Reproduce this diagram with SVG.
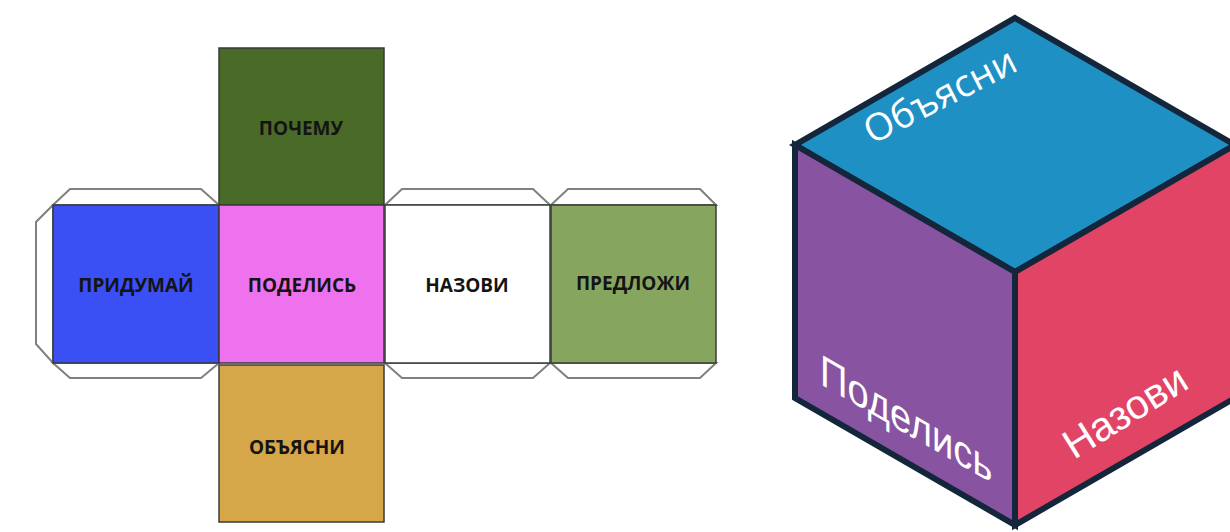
<svg xmlns="http://www.w3.org/2000/svg" width="1230" height="532" viewBox="0 0 1230 532">
<defs>
<style>
.face{stroke:#3a3a3a;stroke-width:1.5}
.tab{fill:#ffffff;stroke:#808080;stroke-width:2;stroke-linejoin:miter}
.lbl{font-family:"Open Sans","Liberation Sans",sans-serif;font-weight:bold;font-size:19px;text-anchor:middle;fill:#141414}
.cube{stroke:#13263b;stroke-width:6;stroke-linejoin:miter}
.ctext{fill:#ffffff}
</style>
</defs>
<rect width="1230" height="532" fill="#ffffff"/>
<g id="tabs">
<polygon class="tab" points="53,205 70,189 201,189 219,205"/>
<polygon class="tab" points="53,205 36,222 36,344 53,363"/>
<polygon class="tab" points="53,363 70,378 201,378 219,363"/>
<polygon class="tab" points="385,205 402,189 533,189 550,205"/>
<polygon class="tab" points="385,363 402,378 533,378 550,363"/>
<polygon class="tab" points="551,205 568,189 700,189 716,205"/>
<polygon class="tab" points="551,363 568,378 700,378 716,363"/>
</g>
<g id="n-pochemu">
<rect class="face" x="219" y="48" width="165" height="157" fill="#4a6a28"/>
<text class="lbl" x="301" y="135">ПОЧЕМУ</text>
</g>
<g id="n-pridumai">
<rect class="face" x="53" y="205" width="166" height="158" fill="#3a4ff4"/>
<text class="lbl" x="136" y="292" fill="#0c0c48">ПРИДУМАЙ</text>
</g>
<g id="n-podelis">
<rect class="face" x="219" y="205" width="165" height="158" fill="#ee72ee"/>
<text class="lbl" x="302" y="292">ПОДЕЛИСЬ</text>
</g>
<g id="n-nazovi">
<rect class="face" x="385" y="205" width="165" height="158" fill="#ffffff"/>
<text class="lbl" x="467" y="292">НАЗОВИ</text>
</g>
<g id="n-predlozhi">
<rect class="face" x="551" y="205" width="165" height="158" fill="#86a660"/>
<text class="lbl" x="633" y="290">ПРЕДЛОЖИ</text>
</g>
<g id="n-obyasni">
<rect class="face" x="219" y="365" width="165" height="157" fill="#d5a748"/>
<text class="lbl" x="297" y="454">ОБЪЯСНИ</text>
</g>
<g id="cube">
<g id="c-top">
<polygon class="cube" points="1015,18 1235,145 1015,272 795,145" fill="#1f90c4"/>
<text class="ctext" font-family="Open Sans, sans-serif" font-size="38" transform="translate(872,145) rotate(-27)">Объясни</text>
</g>
<g id="c-left">
<polygon class="cube" points="795,145 1015,272 1015,525 795,398" fill="#8853a0"/>
<text class="ctext" font-family="Liberation Sans, Arial, sans-serif" font-size="44" transform="matrix(0.866,0.5,0,1,820,384)">Поделись</text>
</g>
<g id="c-right">
<polygon class="cube" points="1015,272 1235,145 1235,398 1015,525" fill="#e24465"/>
<text class="ctext" font-family="Liberation Sans, Arial, sans-serif" font-size="41" transform="translate(1074,460) rotate(-32)">Назови</text>
</g>
</g>
<g id="connectors"/>
</svg>
